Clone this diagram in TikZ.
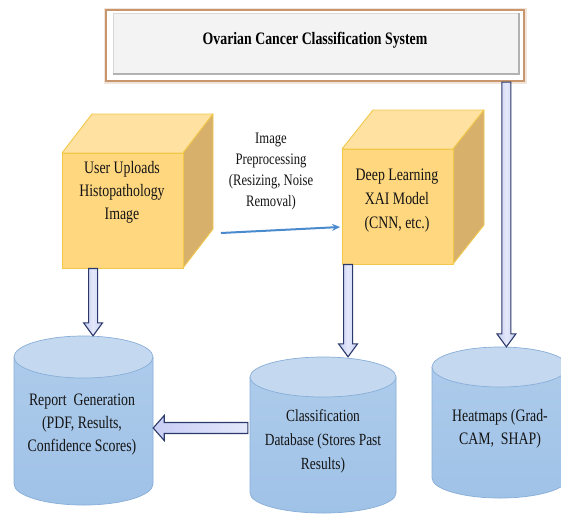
\documentclass[tikz,border=0pt]{standalone}
\usepackage{fontspec}
\setmainfont{Liberation Serif}[FakeStretch=0.79]
\usetikzlibrary{calc,arrows.meta}

\definecolor{cubefront}{HTML}{FFD77F}
\definecolor{cubetop}{HTML}{FFE2A1}
\definecolor{cubeside}{HTML}{D7B06C}
\definecolor{cubeedge}{HTML}{F2C84B}
\definecolor{cylbody}{HTML}{9FC2E7}
\definecolor{cylbodytop}{HTML}{ADCBEB}
\definecolor{cyltop}{HTML}{C4D9EF}
\definecolor{cyledge}{HTML}{88AED8}
\definecolor{arrowfill}{HTML}{C5CDF0}
\definecolor{arrowlight}{HTML}{E4E8FA}
\definecolor{arrowedge}{HTML}{2B3A6B}
\definecolor{flowblue}{HTML}{4A8ACF}
\definecolor{framebrown}{HTML}{C8966C}
\definecolor{panelgray}{HTML}{F3F3F3}

% hollow block arrow pointing down, from #1 to the height of #2
\newcommand\blockdown[2]{%
  \draw[blockarrow] let \p1=(#1), \p2=(#2) in
    (\x1-4.5pt,\y1) -- (\x1-4.5pt,\y2+13pt) -- (\x1-9.5pt,\y2+13pt) -- (\x1,\y2)
    -- (\x1+9.5pt,\y2+13pt) -- (\x1+4.5pt,\y2+13pt) -- (\x1+4.5pt,\y1) -- cycle;}

% database cylinder: name, left, right, top-ellipse y, bottom-ellipse y, y radius
\newcommand\dbcylinder[6]{%
  \path[cylfill] (#2,#4) -- (#2,#5) arc[start angle=180,end angle=0,x radius={(#3-#2)/2},y radius=#6]
    -- (#3,#4) -- cycle;
  \draw[cyllines] (#2,#4) -- (#2,#5) arc[start angle=180,end angle=0,x radius={(#3-#2)/2},y radius=#6]
    -- (#3,#4);
  \draw[cyllines, fill=cyltop] ({(#2+#3)/2},#4) ellipse[x radius={(#3-#2)/2},y radius=#6];
  \node[inner sep=0pt, minimum width={(#3-#2)*1pt}, minimum height={(#5-#4+2*#6)*1pt}]
    (#1) at ({(#2+#3)/2},{(#4+#5)/2}) {};}

\tikzset{
  label/.style={align=center, font=\fontsize{17.5}{23}\selectfont, text=black!92},
  smalllabel/.style={align=center, font=\fontsize{16}{21}\selectfont, text=black!92},
  cubeface/.style={draw=cubeedge, fill=cubefront, line width=0.9pt, inner sep=0pt},
  cubetopface/.style={draw=cubeedge, fill=cubetop, line width=0.9pt, line join=round},
  cubesideface/.style={draw=cubeedge, fill=cubeside, line width=0.9pt, line join=round},
  cylfill/.style={top color=cylbodytop, bottom color=cylbody},
  cyllines/.style={draw=cyledge, line width=0.7pt},
  blockarrow/.style={draw=arrowedge, line width=1.1pt, line join=miter,
    left color=arrowfill, right color=arrowfill, middle color=arrowlight},
  leftblock/.style={draw=arrowedge, line width=1.1pt, line join=miter,
    left color=arrowfill!90!blue!70, right color=arrowlight},
  flow/.style={draw=flowblue, line width=2pt, -{Stealth[length=8pt,width=7pt]}},
}

\begin{document}
\begin{tikzpicture}[x=1pt,y=-1pt]
\useasboundingbox (0,0) rectangle (561,515);
\clip (0,0) rectangle (561,515);
\fill[white] (0,0) rectangle (561,515);

% ---- title frame with a soft brown rim ----
\draw[framebrown, line width=5pt, opacity=0.25] (106,10) rectangle (524,81);
\node[draw=framebrown, line width=2.2pt, fill=white, minimum width=418pt,
      minimum height=71pt, inner sep=0pt] (title) at (315,45.5) {};
\fill[panelgray] (113,13) rectangle (519,74);
\draw[gray!30, line width=0.8pt] (113,74) -- (113,13) -- (519,13);
\draw[gray!60, line width=1.2pt] (113,74) -- (519,74) -- (519,13);
\node[font=\bfseries\fontsize{17.5}{20}\selectfont] (titletext) at (315,40)
  {Ovarian Cancer Classification System};

% ---- user upload cube ----
\draw[cubetopface] (62,153) -- (92,114) -- (213,114) -- (183,153) -- cycle;
\draw[cubesideface] (183,153) -- (213,114) -- (213,229) -- (183,268) -- cycle;
\node[cubeface, minimum width=121pt, minimum height=115pt] (user) at (122.5,210.5) {};
\node[label] (usertext) at (122,192.5) {User Uploads\\Histopathology\\Image};

% ---- deep learning cube ----
\draw[cubetopface] (342,149) -- (373,110) -- (484,110) -- (453,149) -- cycle;
\draw[cubesideface] (453,149) -- (484,110) -- (484,225) -- (453,264) -- cycle;
\node[cubeface, minimum width=111pt, minimum height=115pt] (dl) at (397.5,206.5) {};
\node[label, font=\fontsize{17.5}{24}\selectfont] (dltext) at (397,201) {Deep Learning\\XAI Model\\(CNN, etc.)};

% ---- preprocessing step ----
\node[smalllabel] (prep) at (271,171.5) {Image\\Preprocessing\\(Resizing, Noise\\Removal)};
\coordinate (prepstart) at ($(user.east)+(37.5,22.5)$);
\coordinate (prepend) at ($(dl.west)+(-1.5,20.5)$);
\draw[flow] (prepstart) -- (prepend);

% ---- databases ----
\dbcylinder{report}{14}{153}{357}{484}{21}
\node[label] (reporttext) at (82,425) {Report\ \ Generation\\(PDF, Results,\\Confidence Scores)};

\dbcylinder{classdb}{250}{396}{377}{493}{20}
\node[label, font=\fontsize{17}{24}\selectfont] (classtext) at (323,441) {Classification\\Database (Stores Past\\Results)};

\dbcylinder{heat}{432}{568}{367}{478}{20}
\node[label] (heattext) at (500,428.5) {Heatmaps (Grad-\\CAM,\ \ SHAP)};

% ---- block arrows ----
\coordinate (userout) at ($(user.south west)+(31.5,0)$);
\blockdown{userout}{report.north}
\coordinate (dlout) at ($(dl.south west)+(6.5,0)$);
\blockdown{dlout}{classdb.north}
\coordinate (titleout) at ($(title.south west)+(401.5,0)$);
\blockdown{titleout}{heat.north}

% database to report, pointing left
\coordinate (dbout) at ($(classdb.west)+(-2,-7)$);
\coordinate (reportin) at (report.east |- dbout);
\draw[leftblock] let \p1=(dbout), \p2=(reportin) in
  (\x1,\y1+5.5pt) -- (\x2+11pt,\y1+5.5pt) -- (\x2+11pt,\y1+12.5pt) -- (\x2,\y1)
  -- (\x2+11pt,\y1-12.5pt) -- (\x2+11pt,\y1-5.5pt) -- (\x1,\y1-5.5pt) -- cycle;
\end{tikzpicture}
\end{document}
